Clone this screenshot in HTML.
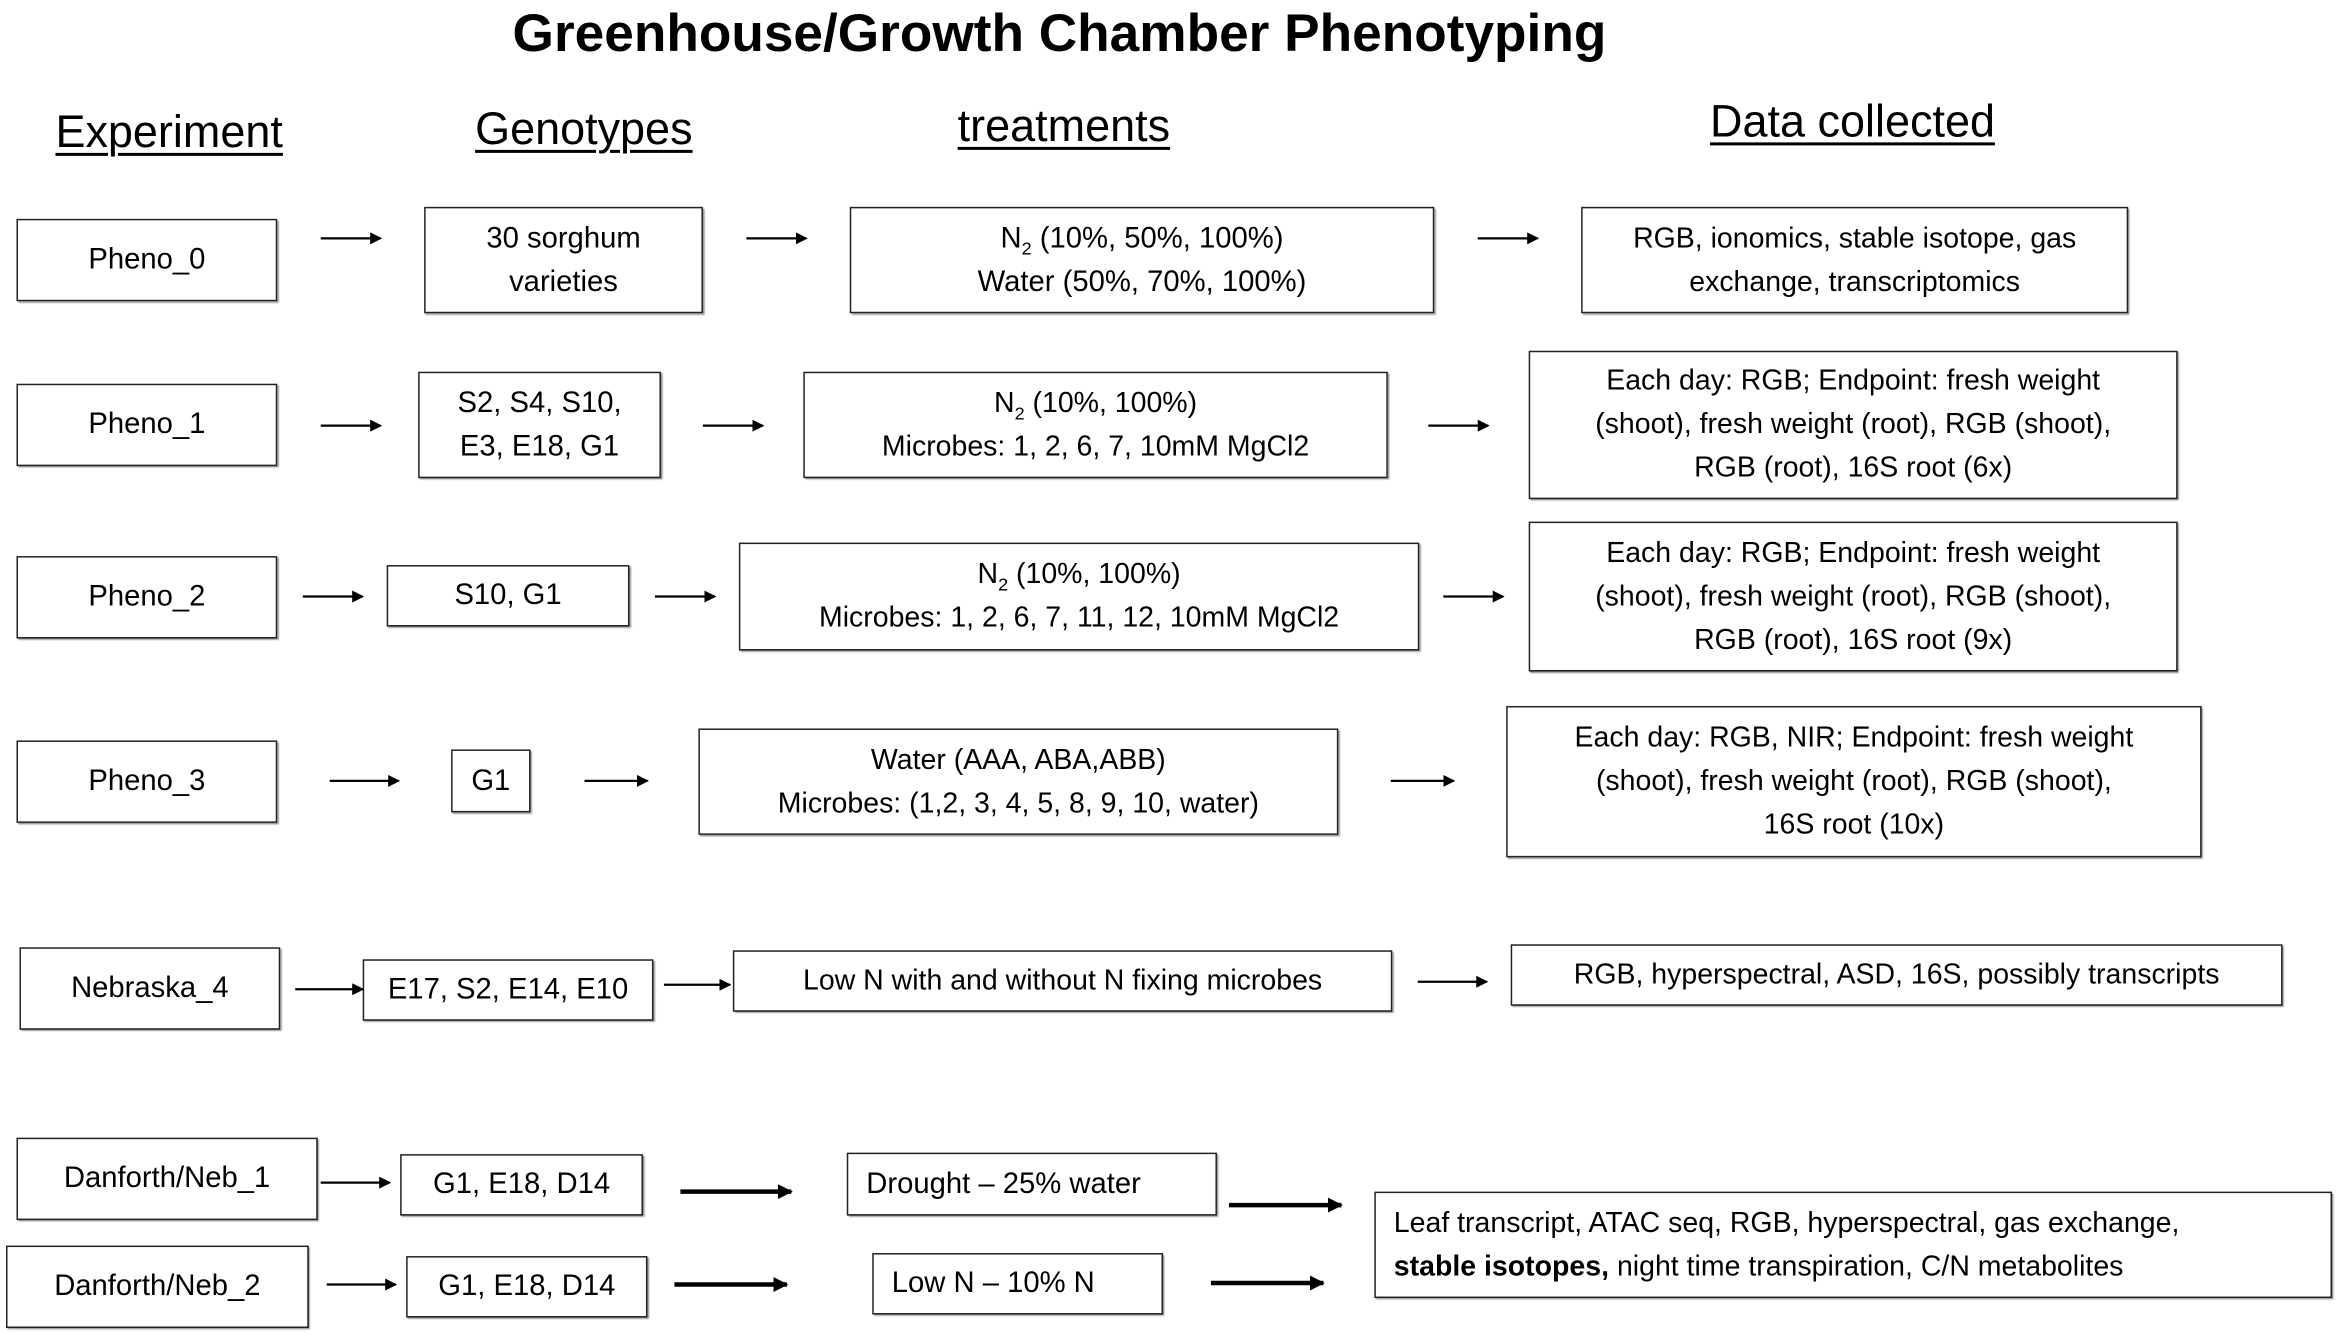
<!DOCTYPE html>
<html><head><meta charset="utf-8"><style>
html,body{margin:0;padding:0;background:#fff;}
body{width:2338px;height:1334px;overflow:hidden;position:relative;}
#w{position:absolute;left:0;top:0;width:1560px;height:890px;transform-origin:0 0;transform:scale(1.49872,1.49888);font-family:"Liberation Sans",sans-serif;color:#000;}
.b{position:absolute;border:1.3px solid #222;box-sizing:border-box;display:flex;align-items:center;justify-content:center;text-align:center;font-size:19.5px;line-height:29px;box-shadow:1px 1px 1px #888;}
.h{position:absolute;font-size:30px;text-decoration:underline;text-decoration-thickness:2px;text-underline-offset:4px;white-space:nowrap;}
sub{font-size:12px;line-height:0;}
svg{position:absolute;left:0;top:0;}
</style></head><body>
<div id="w">
<div style="position:absolute;left:342px;top:2px;font-size:35.5px;font-weight:bold;white-space:nowrap">Greenhouse/Growth Chamber Phenotyping</div>
<div class="h" style="left:37px;top:72px">Experiment</div>
<div class="h" style="left:317px;top:70px">Genotypes</div>
<div class="h" style="left:639px;top:68px">treatments</div>
<div class="h" style="left:1141px;top:65px">Data collected</div>

<div class="b" style="left:11px;top:146px;width:174px;height:55px"><div>Pheno_0</div></div>
<div class="b" style="left:283px;top:138px;width:186px;height:71px"><div>30 sorghum<br>varieties</div></div>
<div class="b" style="left:567px;top:138px;width:390px;height:71px"><div>N<sub>2</sub> (10%, 50%, 100%)<br>Water (50%, 70%, 100%)</div></div>
<div class="b" style="left:1055px;top:138px;width:365px;height:71px;font-size:19px"><div>RGB, ionomics, stable isotope, gas<br>exchange, transcriptomics</div></div>

<div class="b" style="left:11px;top:256px;width:174px;height:55px"><div>Pheno_1</div></div>
<div class="b" style="left:279px;top:248px;width:162px;height:71px"><div>S2, S4, S10,<br>E3, E18, G1</div></div>
<div class="b" style="left:536px;top:248px;width:390px;height:71px;font-size:19px"><div>N<sub>2</sub> (10%, 100%)<br>Microbes: 1, 2, 6, 7, 10mM MgCl2</div></div>
<div class="b" style="left:1020px;top:234px;width:433px;height:99px;font-size:19px"><div>Each day: RGB; Endpoint: fresh weight<br>(shoot), fresh weight (root), RGB (shoot),<br>RGB (root), 16S root (6x)</div></div>

<div class="b" style="left:11px;top:371px;width:174px;height:55px"><div>Pheno_2</div></div>
<div class="b" style="left:258px;top:377px;width:162px;height:41px"><div>S10, G1</div></div>
<div class="b" style="left:493px;top:362px;width:454px;height:72px;font-size:19px"><div>N<sub>2</sub> (10%, 100%)<br>Microbes: 1, 2, 6, 7, 11, 12, 10mM MgCl2</div></div>
<div class="b" style="left:1020px;top:348px;width:433px;height:100px;font-size:19px"><div>Each day: RGB; Endpoint: fresh weight<br>(shoot), fresh weight (root), RGB (shoot),<br>RGB (root), 16S root (9x)</div></div>

<div class="b" style="left:11px;top:494px;width:174px;height:55px"><div>Pheno_3</div></div>
<div class="b" style="left:301px;top:500px;width:53px;height:42px"><div>G1</div></div>
<div class="b" style="left:466px;top:486px;width:427px;height:71px;font-size:19px"><div>Water (AAA, ABA,ABB)<br>Microbes: (1,2, 3, 4, 5, 8, 9, 10, water)</div></div>
<div class="b" style="left:1005px;top:471px;width:464px;height:101px;font-size:19px"><div>Each day: RGB, NIR; Endpoint: fresh weight<br>(shoot), fresh weight (root), RGB (shoot),<br>16S root (10x)</div></div>

<div class="b" style="left:13px;top:632px;width:174px;height:55px"><div>Nebraska_4</div></div>
<div class="b" style="left:242px;top:640px;width:194px;height:41px"><div>E17, S2, E14, E10</div></div>
<div class="b" style="left:489px;top:634px;width:440px;height:41px;font-size:19px"><div>Low N with and without N fixing microbes</div></div>
<div class="b" style="left:1008px;top:630px;width:515px;height:41px;font-size:19px"><div>RGB, hyperspectral, ASD, 16S, possibly transcripts</div></div>

<div class="b" style="left:11px;top:759px;width:201px;height:55px"><div>Danforth/Neb_1</div></div>
<div class="b" style="left:267px;top:770px;width:162px;height:41px"><div>G1, E18, D14</div></div>
<div class="b" style="left:565px;top:769px;width:247px;height:42px;justify-content:flex-start;padding-left:12px"><div>Drought – 25% water</div></div>
<div class="b" style="left:4px;top:831px;width:202px;height:55px"><div>Danforth/Neb_2</div></div>
<div class="b" style="left:271px;top:838px;width:161px;height:41px"><div>G1, E18, D14</div></div>
<div class="b" style="left:582px;top:836px;width:194px;height:41px;justify-content:flex-start;padding-left:12px"><div>Low N – 10% N</div></div>
<div class="b" style="left:917px;top:795px;width:639px;height:71px;justify-content:flex-start;text-align:left;padding-left:12px;font-size:19px"><div>Leaf transcript, ATAC seq, RGB, hyperspectral, gas exchange,<br><b>stable isotopes,</b> night time transpiration, C/N metabolites</div></div>

<svg width="1560" height="890">
<defs><marker id="m" markerWidth="8" markerHeight="8" refX="7" refY="4" orient="auto" markerUnits="userSpaceOnUse"><path d="M0,0 L8,4 L0,8z" fill="#000"/></marker>
<marker id="m2" markerWidth="10" markerHeight="10" refX="9" refY="5" orient="auto" markerUnits="userSpaceOnUse"><path d="M0,0 L10,5 L0,10z" fill="#000"/></marker></defs>
<g stroke="#000" stroke-width="1.5" marker-end="url(#m)">
<line x1="214" y1="159" x2="254" y2="159"/><line x1="498" y1="159" x2="538" y2="159"/><line x1="986" y1="159" x2="1026" y2="159"/>
<line x1="214" y1="284" x2="254" y2="284"/><line x1="469" y1="284" x2="509" y2="284"/><line x1="953" y1="284" x2="993" y2="284"/>
<line x1="202" y1="398" x2="242" y2="398"/><line x1="437" y1="398" x2="477" y2="398"/><line x1="963" y1="398" x2="1003" y2="398"/>
<line x1="220" y1="521" x2="266" y2="521"/><line x1="390" y1="521" x2="432" y2="521"/><line x1="928" y1="521" x2="970" y2="521"/>
<line x1="197" y1="660" x2="242" y2="660"/><line x1="443" y1="657" x2="487" y2="657"/><line x1="946" y1="655" x2="992" y2="655"/>
<line x1="214" y1="789" x2="260" y2="789"/><line x1="218" y1="857" x2="264" y2="857"/>
</g>
<g stroke="#000" stroke-width="3" marker-end="url(#m2)">
<line x1="454" y1="795" x2="528" y2="795"/><line x1="820" y1="804" x2="895" y2="804"/>
<line x1="450" y1="857" x2="525" y2="857"/><line x1="808" y1="856" x2="883" y2="856"/>
</g>
</svg>
</div>
</body></html>
